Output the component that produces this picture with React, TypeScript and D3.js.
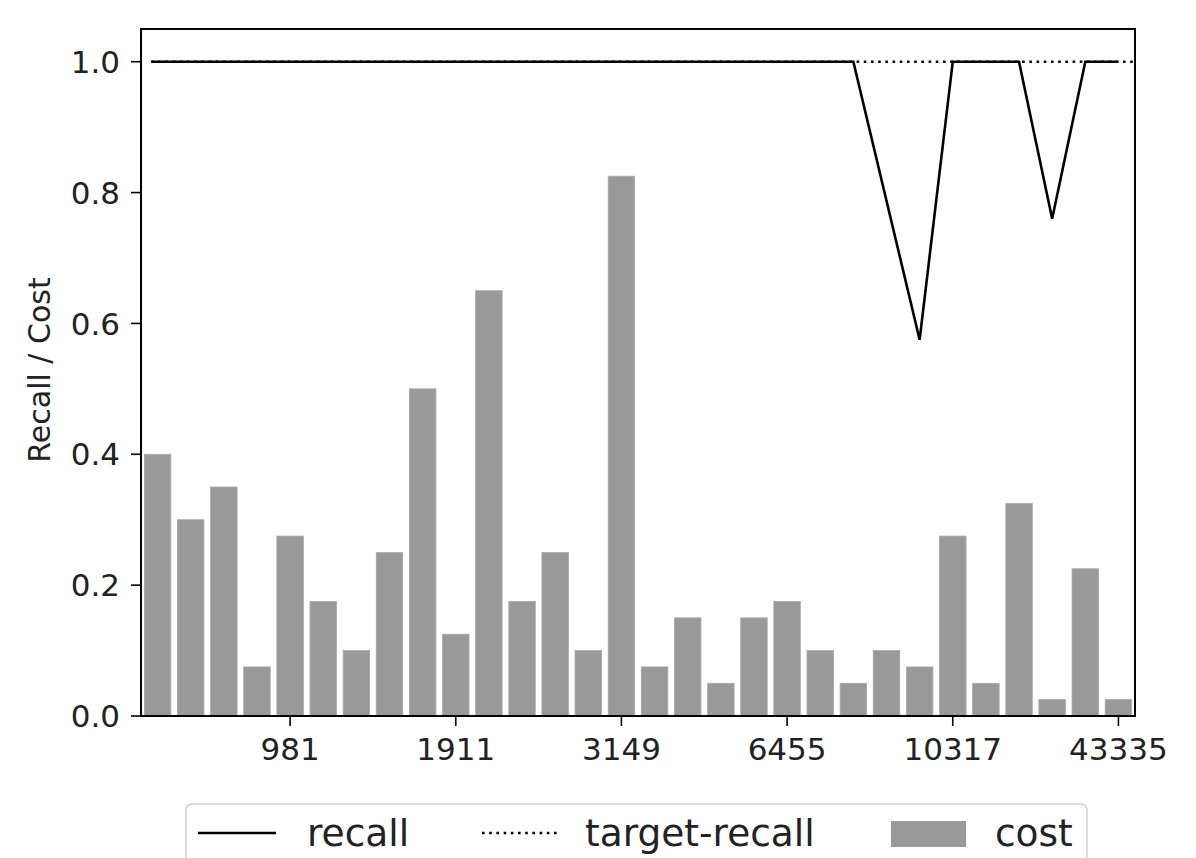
import React from "react";
import * as d3 from "d3";

const costValues: number[] = [
  0.4, 0.3, 0.35, 0.075, 0.275, 0.175, 0.1, 0.25, 0.5, 0.125,
  0.65, 0.175, 0.25, 0.1, 0.825, 0.075, 0.15, 0.05, 0.15, 0.175,
  0.1, 0.05, 0.1, 0.075, 0.275, 0.05, 0.325, 0.025, 0.225, 0.025,
];
const recallIndex: number[] = [-0.2, 21, 23, 24, 26, 27, 28, 29];
const recallValues: number[] = [1.0, 1.0, 0.575, 1.0, 1.0, 0.76, 1.0, 1.0];
const targetRecall = 1.0;
const xTickIndex: number[] = [4, 9, 14, 19, 24, 29];
const xTickLabels: string[] = ["981", "1911", "3149", "6455", "10317", "43335"];
const yTicks: number[] = [0, 0.2, 0.4, 0.6, 0.8, 1.0];
const legendLabels: string[] = ["recall", "target-recall", "cost"];

const W = 1196;
const H = 858;
const L = 141, R = 1135, T = 29, B = 716;
const FONT = "DejaVu Sans, sans-serif";

export default function App() {
  const x = d3.scaleLinear().domain([-0.5, costValues.length - 0.5]).range([L, R]);
  const y = d3.scaleLinear().domain([0, 1.05]).range([B, T]);
  const bw = x(0.8) - x(0);
  const line = d3
    .line<number>()
    .x((_, i) => x(recallIndex[i]))
    .y((d) => y(d));

  return (
    <svg
      width={W}
      height={H}
      style={{ position: "absolute", left: 0, top: 0, display: "block", background: "#fff" }}
      fontFamily={FONT}
    >
      {/* bars */}
      {costValues.map((v, i) => (
        <rect
          key={i}
          x={x(i) - bw / 2}
          y={y(v)}
          width={bw}
          height={y(0) - y(v)}
          fill="#999999"
          stroke="#a8a8a8"
          strokeWidth={0.8}
        />
      ))}
      {/* recall line */}
      <path d={line(recallValues) || ""} fill="none" stroke="#000" strokeWidth={2.6} strokeLinejoin="miter" />
      {/* target line */}
      <line
        x1={x(-0.2)}
        x2={R}
        y1={y(targetRecall)}
        y2={y(targetRecall)}
        stroke="#000"
        strokeWidth={2.6}
        strokeDasharray="2.6 4.6"
      />
      {/* spines */}
      <rect x={L} y={T} width={R - L} height={B - T} fill="none" stroke="#000" strokeWidth={2} />
      {/* y ticks */}
      {yTicks.map((t) => (
        <g key={t}>
          <line x1={L - 10} x2={L} y1={y(t)} y2={y(t)} stroke="#000" strokeWidth={1.6} />
          <text x={L - 21} y={y(t) + 11.2} textAnchor="end" fontSize={31} fill="#222">
            {t.toFixed(1)}
          </text>
        </g>
      ))}
      {/* x ticks */}
      {xTickIndex.map((idx, k) => (
        <g key={idx}>
          <line x1={x(idx)} x2={x(idx)} y1={B} y2={B + 10} stroke="#000" strokeWidth={1.6} />
          <text x={x(idx)} y={760} textAnchor="middle" fontSize={31} fill="#222">
            {xTickLabels[k]}
          </text>
        </g>
      ))}
      {/* y label */}
      <text transform="translate(50,370) rotate(-90)" textAnchor="middle" fontSize={30} fill="#222">
        Recall / Cost
      </text>
      {/* legend */}
      <rect x={186} y={804} width={901} height={80} rx={6} fill="#fff" fillOpacity={0.8} stroke="#d0d0d0" strokeWidth={1.5} />
      <line x1={198} x2={276} y1={833} y2={833} stroke="#000" strokeWidth={2.6} />
      <text x={307} y={846} fontSize={37.5} fill="#222">{legendLabels[0]}</text>
      <line x1={482} x2={558} y1={833} y2={833} stroke="#000" strokeWidth={2.6} strokeDasharray="2.6 4.6" />
      <text x={585} y={846} fontSize={37.5} fill="#222">{legendLabels[1]}</text>
      <rect x={891} y={821} width={75} height={26} fill="#999999" />
      <text x={995} y={846} fontSize={37.5} fill="#222">{legendLabels[2]}</text>
    </svg>
  );
}
